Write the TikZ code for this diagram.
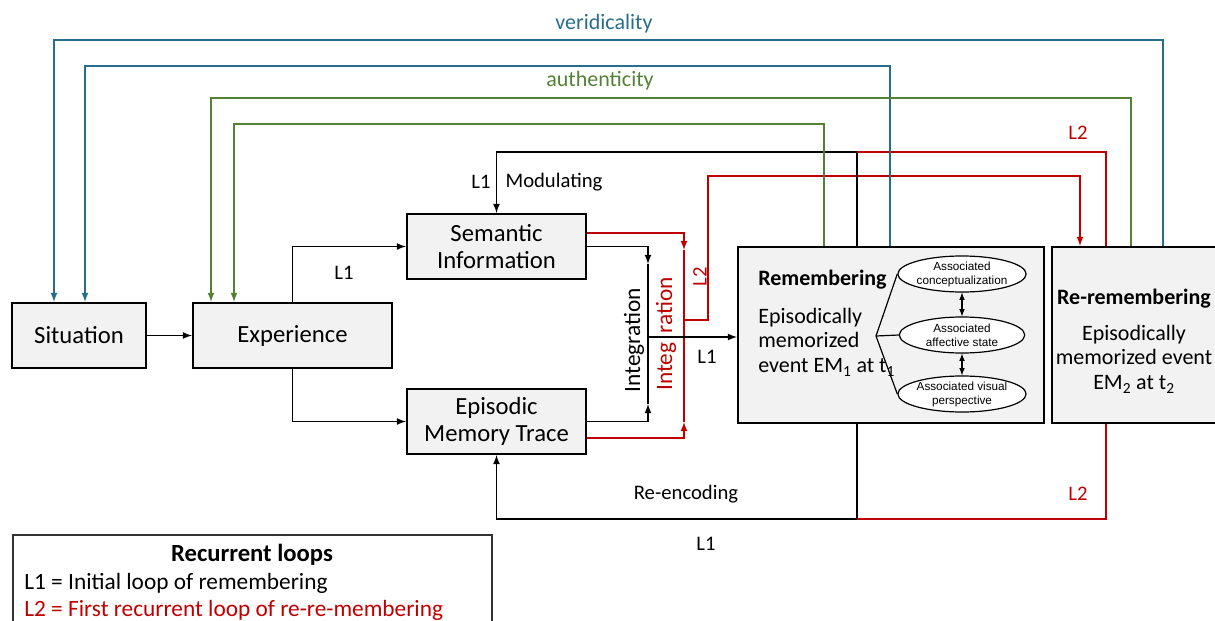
\documentclass[tikz,border=0pt]{standalone}
\usepackage{fontspec}
\setmainfont{Carlito}
\newfontfamily\ellfont{Liberation Sans}
\usetikzlibrary{positioning,shapes.geometric}
\definecolor{veriblue}{RGB}{40,110,140}
\definecolor{authgreen}{RGB}{84,130,53}
\definecolor{loopred}{RGB}{192,0,0}
\definecolor{boxgray}{RGB}{242,242,242}
\newlength{\pxu}
\setlength{\pxu}{0.75pt}

\begin{document}
\begin{tikzpicture}[x=0.75pt, y=-0.75pt, line width=1.35pt,
    box/.style={draw, fill=boxgray, line width=1.5pt, align=center, inner sep=0pt, font=\fontsize{18.5}{20}\selectfont},
    assoc/.style={draw, ellipse, fill=white, line width=0.9pt, minimum width=94pt, minimum height=27pt,
      inner sep=0pt, align=center, font=\ellfont\fontsize{8.8}{10.5}\selectfont},
    lbl/.style={font=\fontsize{15.5}{17}\selectfont},
    big/.style={font=\fontsize{16.5}{18.5}\selectfont},
    hd/.style={font=\fontsize{16.5}{18.5}\selectfont\bfseries}]
  \useasboundingbox (0,0) rectangle (1215,621);

  % boxes
  \node[box, minimum width=134\pxu, minimum height=65\pxu] (sit) at (79,335.5) {Situation};
  \node[box, minimum width=199\pxu, minimum height=65\pxu] (exp) at (292.5,335.5) {Experience};
  \node[box, minimum width=179\pxu, minimum height=65\pxu] (sem) at (496.5,246.5) {Semantic\\Information};
  \node[box, minimum width=179\pxu, minimum height=65\pxu] (epi) at (496.5,421.5) {Episodic\\Memory Trace};
  \node[box, minimum width=306\pxu, minimum height=176\pxu] (rem) at (891,335) {};
  \node[box, minimum width=168\pxu, minimum height=176\pxu] (rerem) at (1136,335) {};

  \node[hd, anchor=west] (remt) at (753,280) {Remembering};
  \node[big, anchor=west, align=left] (remx) at (753,342) {Episodically\\memorized\\event EM\textsubscript{1} at t\textsubscript{1}};
  \node[hd] (taget) at (1134,299) {Re-remembering};
  \node[big, align=center] (reremx) at (1134,359) {Episodically\\memorized event\\EM\textsubscript{2} at t\textsubscript{2}};

  \node[assoc] (a1) at (962,274) {Associated\\conceptualization};
  \node[assoc] (a2) at (962,335) {Associated\\affective state};
  \node[assoc] (a3) at (962,394) {Associated visual\\perspective};
  \coordinate (fan) at (876,336);
  \draw[line width=0.9pt] (a1.west) -- (fan) -- (a3.west);
  \draw[line width=0.9pt] (fan) -- (a2.west);
  \draw[line width=0.9pt, latex-latex] (a1.south) -- (a2.north);
  \draw[line width=0.9pt, latex-latex] (a2.south) -- (a3.north);

  % L1 forward
  \draw[-latex] (sit) -- (exp);
  \draw[-latex] (exp.north) |- (sem.west);
  \draw[-latex] (exp.south) |- (epi.west);
  \node[lbl] (l1a) at (344,273) {L1};

  % integration
  \coordinate (ij) at (648,337);
  \draw[-latex] (sem.east) -| (648,264);
  \draw (648,264) -- (ij);
  \draw[-latex] (epi.east) -| (648,404);
  \draw (648,404) -- (ij);
  \node[big, rotate=90, font=\fontsize{17.5}{19}\selectfont] (intb) at (634,340) {Integration};
  \coordinate (rj) at (684,320);
  \draw[loopred, -latex] ([yshift=10pt]sem.east) -| (684,250);
  \draw[loopred] (684,250) -- (rj);
  \draw[loopred, -latex] ([yshift=-12.4pt]epi.east) -| (684,422);
  \draw[loopred] (684,422) -- (rj);
  \node[big, rotate=90, text=loopred, font=\fontsize{17.5}{19}\selectfont] (intr) at (666,334) {Integ\hspace{7pt}ration};
  \draw[-latex] (ij) -- (rem.west |- ij);
  \node[lbl] (l1b) at (707,357) {L1};
  \draw[loopred, -latex] (rj) -- ++(24,0) -- ++(0,-144) -| ([xshift=29\pxu]rerem.north west);
  \node[lbl, rotate=90, text=loopred] (l2a) at (700,277) {L2};

  % modulating and L2 top
  \draw[-latex] ([xshift=120\pxu]rem.north west) -- ++(0,-94) -| (sem.north);
  \draw[loopred] ([xshift=120\pxu]rem.north west) ++(0,-94) -| ([xshift=55\pxu]rerem.north west);
  \node[lbl] (l1m) at (481,182) {L1};
  \node[lbl] (modl) at (554,182) {Modulating};
  \node[lbl, text=loopred] (l2b) at (1078,133) {L2};

  % re-encoding
  \draw[-latex] ([xshift=120\pxu]rem.south west) -- ++(0,95) -| (epi.south);
  \draw[loopred] ([xshift=55\pxu]rerem.south west) -- ++(0,95) -- ++(-249,0);
  \node[lbl] (renc) at (686,494) {Re-encoding};
  \node[lbl] (l1c) at (706,544) {L1};
  \node[lbl, text=loopred] (l2c) at (1078,494) {L2};

  % veridicality and authenticity
  \draw[veriblue, -latex] ([xshift=112\pxu]rerem.north west) -- ++(0,-206) -| ([xshift=43\pxu]sit.north west);
  \draw[veriblue, -latex] ([xshift=153\pxu]rem.north west) -- ++(0,-180) -| ([xshift=74\pxu]sit.north west);
  \node[lbl, text=veriblue, font=\fontsize{16.5}{18}\selectfont] (veri) at (604,24) {veridicality};
  \draw[authgreen, -latex] ([xshift=80\pxu]rerem.north west) -- ++(0,-148) -| ([xshift=19\pxu]exp.north west);
  \draw[authgreen, -latex] ([xshift=87\pxu]rem.north west) -- ++(0,-122) -| ([xshift=42\pxu]exp.north west);
  \node[lbl, text=authgreen, font=\fontsize{16.5}{18}\selectfont] (auth) at (600,81) {authenticity};

  % legend
  \draw[line width=0.9pt, black!80] (13,535) rectangle (492,630);
  \node[hd, font=\fontsize{18.5}{20}\selectfont\bfseries] (legt) at (252,555) {Recurrent loops};
  \node[big, anchor=west, font=\fontsize{17.5}{19}\selectfont] (leg1) at (19,583) {L1 = Initial loop of remembering};
  \node[big, anchor=west, text=loopred, font=\fontsize{17.5}{19}\selectfont] (leg2) at (19,610) {L2 = First recurrent loop of re-re-membering};
\end{tikzpicture}
\end{document}
